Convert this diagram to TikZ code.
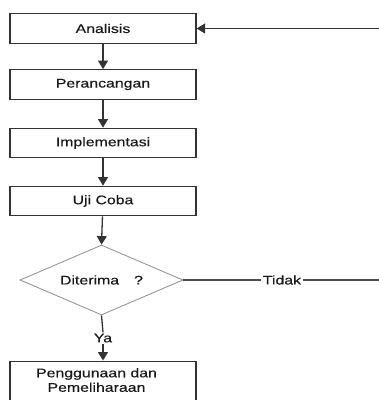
\documentclass[tikz,border=0pt]{standalone}
\usepackage{fontspec}
\setmainfont{Liberation Sans}[FakeStretch=1.27,FakeBold=0.4]
\usetikzlibrary{shapes.geometric,arrows.meta}
\begin{document}
\begin{tikzpicture}[x=1pt,y=-1pt,
  every node/.style={font=\fontsize{12.5}{14.5}\selectfont, text=black!90},
  box/.style={draw=black!80, line width=1.3pt, rectangle, minimum width=186pt, minimum height=29.5pt, inner sep=0pt},
  dec/.style={draw=black!45, line width=0.8pt, diamond, aspect=2.33, minimum width=163pt, minimum height=70pt, inner sep=0pt},
  conn/.style={draw=black!80, line width=1.3pt},
  thin conn/.style={draw=black!70, line width=1.1pt},
  arr/.style={conn, -{Triangle[width=10pt,length=8.5pt]}}]
\useasboundingbox (0,0) rectangle (379,400);
\clip (0,0) rectangle (379,400);
\node[box] (a) at (103,28.5) {Analisis};
\node[box] (p) at (103,84.5) {Perancangan};
\node[box] (i) at (103,143) {Implementasi};
\node[box] (u) at (103,201) {Uji Coba};
\node[dec] (d) at (101.5,280) {Diterima\hspace{1.2em}?};
\node[inner sep=1pt] (ya) at (103,338) {Ya};
\node[inner sep=2pt] (t) at (282,280) {Tidak};
\node[box, anchor=north, minimum height=60pt] (g) at (103,360.5) {};
\node[align=center, inner sep=0pt, anchor=north] (gt) at (96.5,368) {Penggunaan dan\\Pemeliharaan};
\coordinate (r1) at (395,280);
\coordinate (r2) at (395,28.5);
\draw[arr] (a) -- (p);
\draw[arr] (p) -- (i);
\draw[arr] (i) -- (u);
\draw[arr] (u) -- (d.north);
\draw[conn] (d.south) -- (ya.north);
\draw[arr] (ya.south) -- (g.north);
\draw[thin conn] (d.east) -- (t.west);
\draw[thin conn] (t.east) -- (r1) -- (r2);
\draw[arr] (r2) -- (a.east);
\end{tikzpicture}
\end{document}
